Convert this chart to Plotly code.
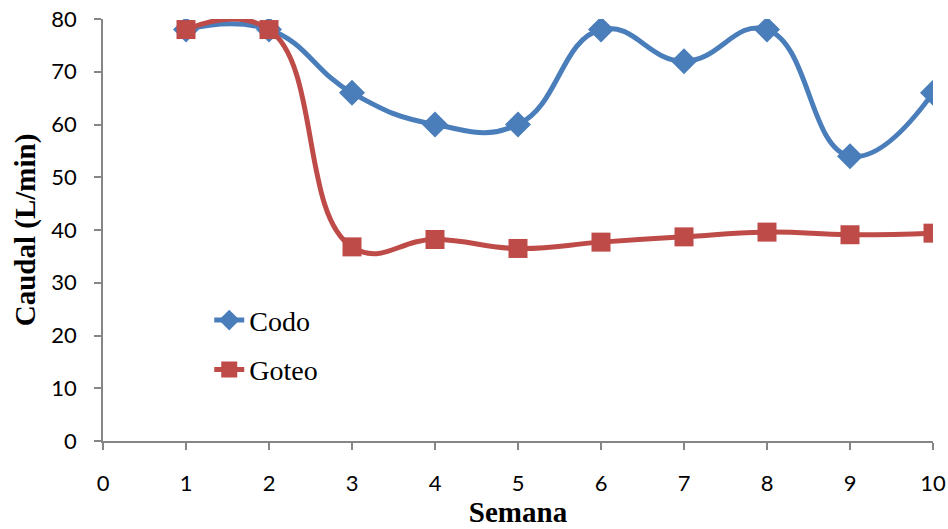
import plotly.graph_objects as go

semanas = [1, 2, 3, 4, 5, 6, 7, 8, 9, 10]
codo = [78, 78, 66, 60, 60, 78, 72, 78, 54, 66]
goteo = [78, 78, 36.8, 38.2, 36.5, 37.7, 38.7, 39.6, 39.1, 39.4]
x_ticks = [0, 1, 2, 3, 4, 5, 6, 7, 8, 9, 10]
y_ticks = [0, 10, 20, 30, 40, 50, 60, 70, 80]

fig = go.Figure()
fig.add_trace(go.Scatter(
    x=semanas, y=codo, name="Codo", mode="lines+markers", legendgroup="a",
    line=dict(color="#4A7EBB", width=5, shape="spline", smoothing=1.3),
    marker=dict(symbol="diamond", size=20, color="#4A7EBB"),
))
fig.add_trace(go.Scatter(
    x=semanas, y=goteo, name="Goteo", mode="lines+markers", legendgroup="b",
    line=dict(color="#BE4B48", width=5, shape="spline", smoothing=1.3),
    marker=dict(symbol="square", size=19, color="#BE4B48"),
))

axis_font = dict(family="Lato, Open Sans, sans-serif", size=22, color="#000")
title_font = dict(family="Liberation Serif, Times New Roman, serif", size=29, color="#000")

fig.update_layout(
    width=948, height=529,
    margin=dict(l=102.5, r=15, t=19, b=88.4),
    paper_bgcolor="white", plot_bgcolor="white",
    showlegend=True,
    legend=dict(
        x=0.128, y=0.345, xanchor="left", yanchor="top",
        font=dict(family="Liberation Serif, Times New Roman, serif", size=28, color="#000"),
        bgcolor="rgba(0,0,0,0)", tracegroupgap=10,
    ),
    xaxis=dict(
        range=[0, 10], tickvals=x_ticks, ticktext=[str(v) for v in x_ticks],
        showgrid=False, zeroline=False, showline=True, linecolor="#868686", linewidth=1.5,
        ticks="outside", ticklen=7, tickcolor="#868686", tickwidth=1.5,
        tickfont=axis_font, ticklabelstandoff=15, automargin=False,
        ticklabeloverflow="allow",
        title=dict(text="<b>Semana</b>", font=title_font, standoff=0),
    ),
    yaxis=dict(
        range=[0, 80], tickvals=y_ticks,
        showgrid=False, zeroline=False, showline=True, linecolor="#868686", linewidth=1.5,
        ticks="outside", ticklen=7, tickcolor="#868686", tickwidth=1.5,
        tickfont=axis_font, ticklabelstandoff=13, automargin=False,
        ticklabeloverflow="allow",
        title=dict(text="<b>Caudal (L/min)</b>", font=title_font, standoff=7),
    ),
)

fig.write_html(
    "out.html",
    config={"displayModeBar": False},
    post_script="document.body.style.margin='0';document.body.style.overflow='hidden';",
)
